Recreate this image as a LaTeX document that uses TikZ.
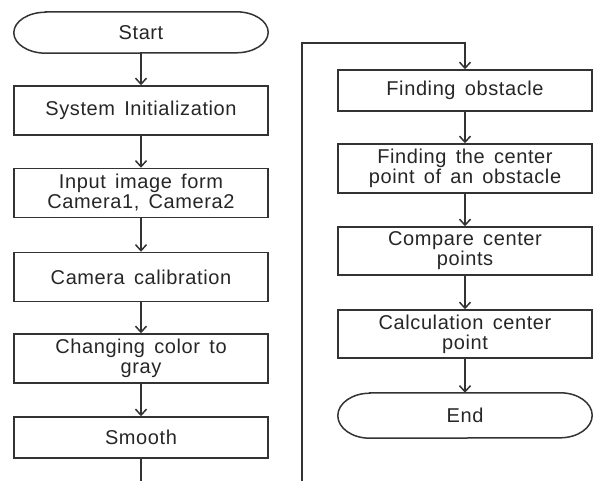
\documentclass[tikz,border=0pt]{standalone}
\usepackage{fontspec}
\setmainfont[LetterSpace=3,WordSpace=1.5]{Liberation Sans}
\usetikzlibrary{arrows.meta}

\begin{document}
\begin{tikzpicture}[
    x=1pt, y=-1pt,
    every node/.style={font=\fontsize{20}{20}\selectfont, text=black!85},
    box/.style={rectangle, draw=black!80, line width=1.5pt, minimum width=254pt, minimum height=49pt, inner sep=0pt, align=center},
    terminal/.style={rectangle, minimum width=254pt, inner sep=0pt},
    line/.style={draw=black!80, line width=1.5pt},
    flow/.style={line, -{Straight Barb[length=6pt,width=11pt]}}
]
\useasboundingbox (0,0) rectangle (596,481);

% Left column
\node[terminal, minimum height=41pt] (start) at (141,32.5) {Start};
\node[box] (init) at (141,110.5) {System Initialization};
\node[box] (input) at (141,193) {Input image form\\Camera1, Camera2};
\node[box] (calib) at (141,277) {Camera calibration};
\node[box] (gray) at (141,358.5) {Changing color to\\gray};
\node[box, minimum height=41pt] (smooth) at (141,437.5) {Smooth};

% Right column
\node[box, minimum height=41pt] (obst) at (465,90.5) {Finding obstacle};
\node[box] (cpoint) at (465,168.5) {Finding the center\\point of an obstacle};
\node[box, minimum height=48pt] (compare) at (465,251) {Compare center\\points};
\node[box, minimum height=48pt] (calc) at (465,334) {Calculation center\\point};
\node[terminal, minimum height=45pt] (stop) at (465,415.5) {End};

% Terminal outlines with flat elliptic ends
\foreach \t/\r in {start/20.5, stop/22.5}
  \draw[line] ([xshift=32pt]\t.north west) -- ([xshift=-32pt]\t.north east)
    arc[start angle=90, end angle=-90, x radius=32pt, y radius=\r pt]
    -- ([xshift=32pt]\t.south west)
    arc[start angle=270, end angle=90, x radius=32pt, y radius=\r pt] -- cycle;

% Arrows
\foreach \a/\b in {start/init, init/input, input/calib, calib/gray, gray/smooth,
                   obst/cpoint, cpoint/compare, compare/calc, calc/stop}
  \draw[flow] (\a) -- (\b);

% Continuation between the columns
\coordinate (cutL) at (141,481);
\coordinate (cutR) at (302,481);
\coordinate (bend) at (302,43);
\draw[line] (smooth) -- (cutL);
\draw[flow] (cutR) -- (bend) -| (obst);

\end{tikzpicture}
\end{document}
